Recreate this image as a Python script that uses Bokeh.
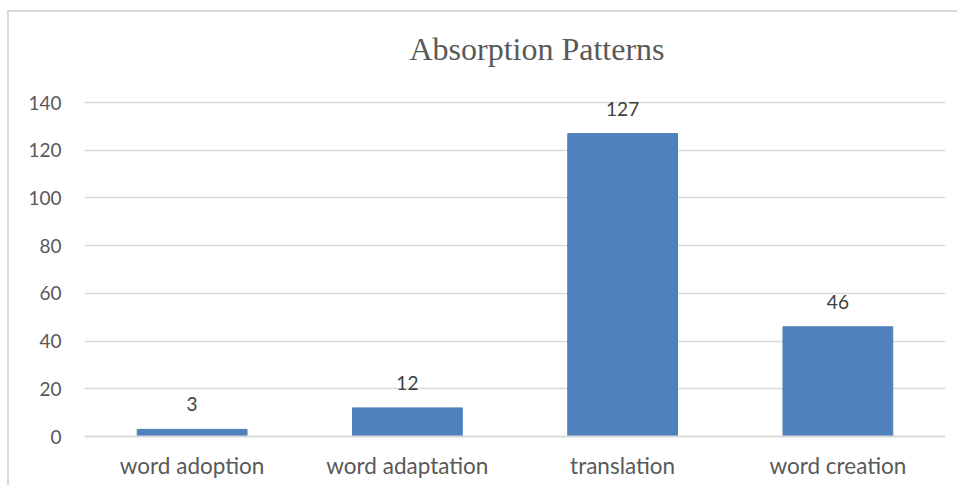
from bokeh.plotting import figure
from bokeh.models import ColumnDataSource, FixedTicker, Range1d, FactorRange, Label
from bokeh.embed import file_html
from bokeh.resources import INLINE
from bokeh.core.properties import value

title_text = "Absorption Patterns"
categories = ["word adoption", "word adaptation", "translation", "word creation"]
counts = [3, 12, 127, 46]
y_ticks = [0, 20, 40, 60, 80, 100, 120, 140]

src = ColumnDataSource(dict(cat=categories, val=counts, lab=[str(v) for v in counts]))

frame_css = {
    "background-image": "linear-gradient(#d9d9d9, #d9d9d9), linear-gradient(#d9d9d9, #d9d9d9)",
    "background-position": "7px 10px, 7px 10px",
    "background-size": "2px 100%, 100% 2px",
    "background-repeat": "no-repeat, no-repeat",
}

p = figure(x_range=FactorRange(*categories, range_padding=0), y_range=Range1d(0, 176.5),
           width=957, height=485, output_backend="svg", toolbar_location=None,
           min_border_left=84, min_border_right=12, min_border_top=15, min_border_bottom=49,
           styles=frame_css)
p.outline_line_color = None
p.background_fill_color = "white"
p.border_fill_color = None

p.vbar(x="cat", top="val", width=0.51, source=src, color="#4F81BD")
p.text(x="cat", y="val", text="lab", source=src, text_align="center", text_baseline="middle",
       y_offset=-25, text_font=value("Lato"), text_font_size="19px", text_color="#404040")

title = Label(x=2.102, y=162.6, text=title_text,
              text_align="center", text_baseline="alphabetic", text_font="Liberation Serif",
              text_font_size="32px", text_color="#595959")
p.add_layout(title)

p.yaxis.ticker = FixedTicker(ticks=y_ticks)
p.yaxis.axis_line_color = None
p.yaxis.major_tick_line_color = None
p.yaxis.minor_tick_line_color = None
p.yaxis.major_label_text_font = "Lato"
p.yaxis.major_label_text_font_size = "19px"
p.yaxis.major_label_text_color = "#595959"
p.yaxis.major_label_standoff = 17

p.xaxis.axis_line_color = "#d9d9d9"
p.xaxis.axis_line_width = 2
p.xaxis.major_tick_line_color = None
p.xaxis.minor_tick_line_color = None
p.xaxis.major_label_text_font = "Lato"
p.xaxis.major_label_text_font_size = "22.5px"
p.xaxis.major_label_text_color = "#595959"
p.xaxis.major_label_standoff = 9

p.xgrid.grid_line_color = None
p.ygrid.ticker = FixedTicker(ticks=y_ticks)
p.ygrid.grid_line_color = "#d9d9d9"
p.ygrid.grid_line_width = 1.5

open("out.html", "w").write(file_html(p, INLINE))
